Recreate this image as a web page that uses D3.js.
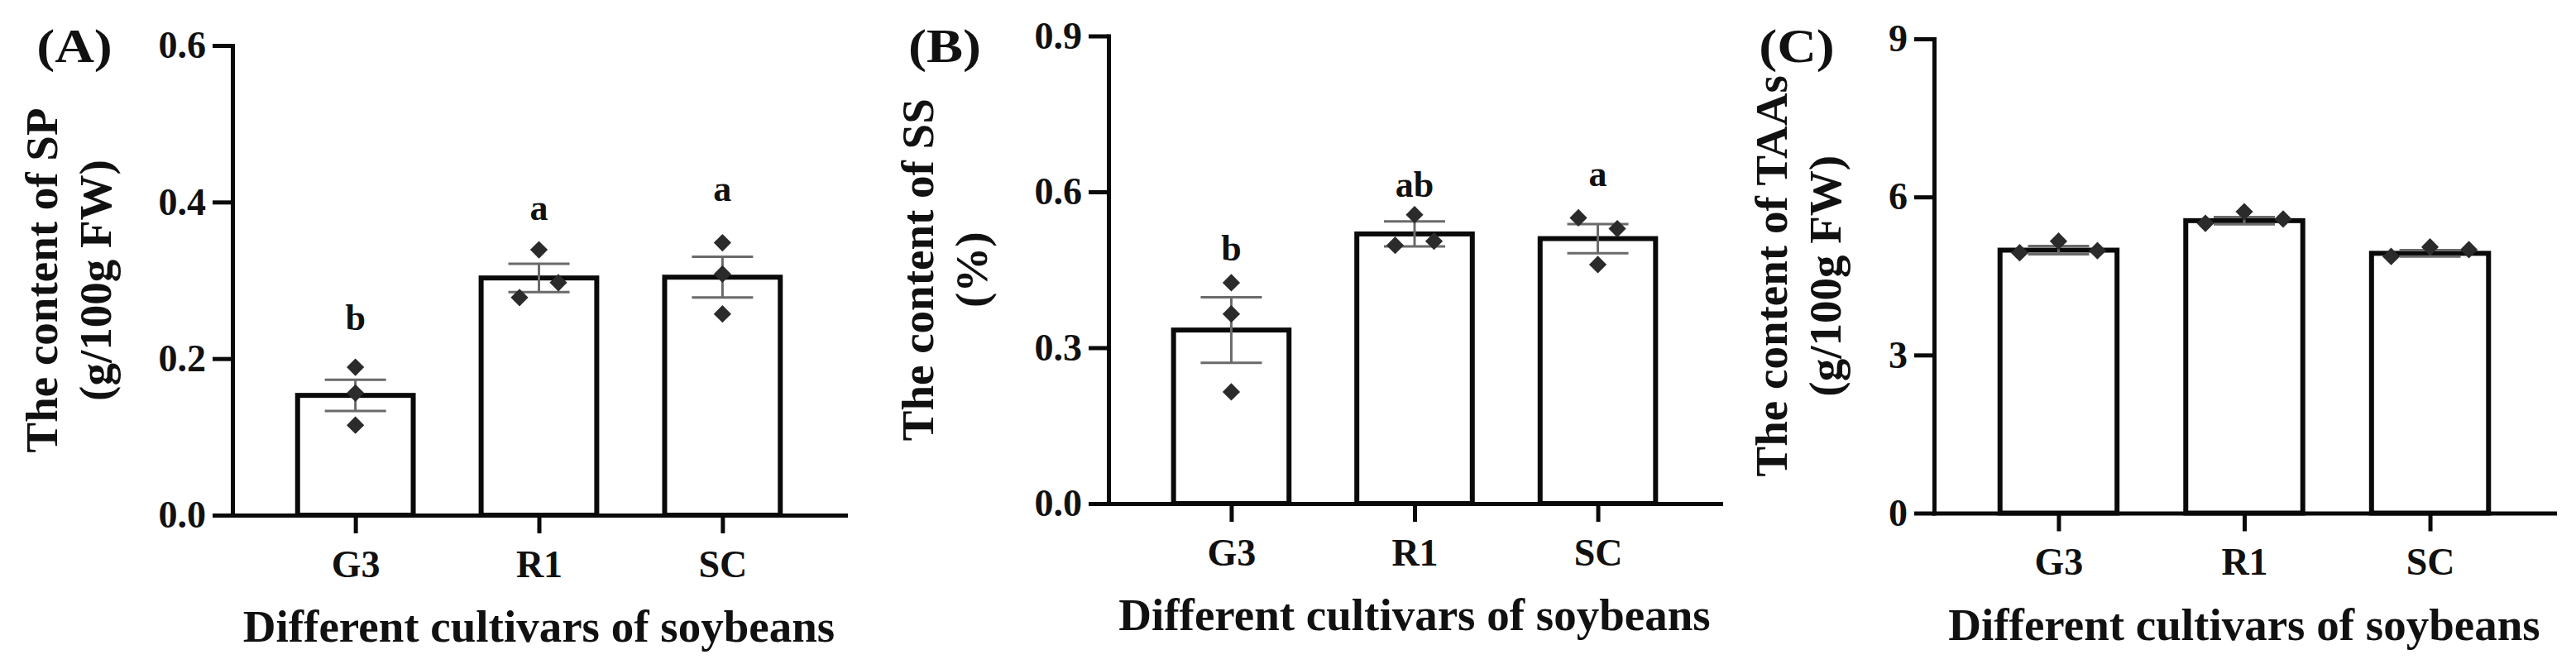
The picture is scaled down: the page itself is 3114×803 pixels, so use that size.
<!DOCTYPE html>
<html>
<head>
<meta charset="utf-8">
<script src="https://cdn.jsdelivr.net/npm/d3@7"></script>
<style>
  body { margin: 0; background: #fff; }
  svg text { font-family: "Liberation Serif", "Times New Roman", serif; font-weight: bold; fill: #111; }
</style>
</head>
<body>
<div id="chart"></div>
<script>
var categories = ["G3", "R1", "SC"];
var xTitle     = "Different cultivars of soybeans";

// (A) soluble protein
var spMeans   = [0.153, 0.303, 0.304];
var spErr     = [0.020, 0.018, 0.026];
var spPoints  = [[0.189, 0.156, 0.115], [0.339, 0.278, 0.297], [0.348, 0.308, 0.257]];
var spLetters = ["b", "a", "a"];
var spLetterY = [0.237, 0.377, 0.401];
var spTicks   = [0, 0.2, 0.4, 0.6];
var spTitle   = ["The content of SP", "(g/100g FW)"];

// (B) soluble sugar
var ssMeans   = [0.334, 0.519, 0.510];
var ssErr     = [0.063, 0.024, 0.028];
var ssPoints  = [[0.425, 0.365, 0.215], [0.556, 0.497, 0.505], [0.550, 0.529, 0.460]];
var ssLetters = ["b", "ab", "a"];
var ssLetterY = [0.468, 0.590, 0.611];
var ssTicks   = [0, 0.3, 0.6, 0.9];
var ssTitle   = ["The content of SS", "(%)"];

// (C) total amino acids
var taaMeans  = [4.99, 5.55, 4.93];
var taaErr    = [0.08, 0.07, 0.06];
var taaPoints = [[4.94, 5.16, 4.98], [5.50, 5.72, 5.58], [4.87, 5.05, 5.00]];
var taaTicks  = [0, 3, 6, 9];
var taaTitle  = ["The content of TAAs", "(g/100g FW)"];

var panels = [
  {tag: "(A)", means: spMeans, err: spErr, points: spPoints, letters: spLetters, letterY: spLetterY,
   ticks: spTicks, fmt: ".1f", title: spTitle, left: 281, right: 1022, y0: 623, yTop: 55, tagX: 90},
  {tag: "(B)", means: ssMeans, err: ssErr, points: ssPoints, letters: ssLetters, letterY: ssLetterY,
   ticks: ssTicks, fmt: ".1f", title: ssTitle, left: 1340, right: 2080, y0: 609, yTop: 43.5, tagX: 1142},
  {tag: "(C)", means: taaMeans, err: taaErr, points: taaPoints, letters: null, letterY: null,
   ticks: taaTicks, fmt: "d", title: taaTitle, left: 2338, right: 3088, y0: 620.5, yTop: 47, tagX: 2172}
];

var svg = d3.select("#chart")
  .append("svg")
    .attr("width", 3114)
    .attr("height", 803);

svg.append("rect").attr("width", 3114).attr("height", 803).attr("fill", "#fff");

panels.forEach(drawPanel);

// spread points that would overlap, like a column scatter
function spreadOffsets(vals, y) {
  var order = vals.map(function(v, i) { return i; }).sort(function(a, b) { return y(vals[b]) - y(vals[a]); });
  var clusters = [], cur = [order[0]];
  for (var k = 1; k < order.length; k++) {
    if (Math.abs(y(vals[order[k]]) - y(vals[order[k - 1]])) < 25) cur.push(order[k]);
    else { clusters.push(cur); cur = [order[k]]; }
  }
  clusters.push(cur);
  var off = vals.map(function() { return 0; });
  clusters.forEach(function(c) {
    c.sort(function(a, b) { return a - b; });
    c.forEach(function(idx, j) { off[idx] = (j - (c.length - 1) / 2) * 47; });
  });
  return off;
}

function drawPanel(p) {
  var g = svg.append("g");

  var x = d3.scalePoint()
    .domain(categories)
    .range([p.left, p.right])
    .padding(0.67);

  var y = d3.scaleLinear()
    .domain([0, p.ticks[p.ticks.length - 1]])
    .range([p.y0, p.yTop]);

  var bw = x.step() * 0.63;

  // bars
  g.selectAll(".bar")
    .data(categories)
    .enter().append("rect")
      .attr("x", function(d) { return x(d) - bw / 2; })
      .attr("y", function(d, i) { return y(p.means[i]); })
      .attr("width", bw)
      .attr("height", function(d, i) { return p.y0 - y(p.means[i]); })
      .attr("fill", "#fff")
      .attr("stroke", "#0a0a0a")
      .attr("stroke-width", 6);

  // Y axis
  var yAxis = g.append("g")
    .attr("transform", "translate(" + p.left + ",0)")
    .call(d3.axisLeft(y).tickValues(p.ticks).tickFormat(d3.format(p.fmt))
      .tickSize(24).tickSizeOuter(0).tickPadding(8));

  // X axis
  var xAxis = g.append("g")
    .attr("transform", "translate(0," + p.y0 + ")")
    .call(d3.axisBottom(x).tickSize(22).tickSizeOuter(0).tickPadding(20));

  [yAxis, xAxis].forEach(function(a) {
    a.attr("font-family", null).attr("font-size", null);
    a.select(".domain").attr("stroke", "#0a0a0a").attr("stroke-width", 5).attr("stroke-linecap", "square");
    a.selectAll(".tick line").attr("stroke", "#0a0a0a").attr("stroke-width", 5);
    a.selectAll(".tick text").style("font-size", "46px").attr("fill", "#111");
  });

  // error bars
  var cap = 37;
  categories.forEach(function(c, i) {
    var cx = x(c), hi = y(p.means[i] + p.err[i]), lo = y(p.means[i] - p.err[i]);
    var eg = g.append("g").attr("stroke", "#6a6a6a").attr("stroke-width", 3);
    eg.append("line").attr("x1", cx).attr("x2", cx).attr("y1", hi).attr("y2", lo);
    eg.append("line").attr("x1", cx - cap).attr("x2", cx + cap).attr("y1", hi).attr("y2", hi);
    eg.append("line").attr("x1", cx - cap).attr("x2", cx + cap).attr("y1", lo).attr("y2", lo);
  });

  // individual points
  var diamond = d3.symbol().type(d3.symbolSquare).size(225);
  categories.forEach(function(c, i) {
    var off = spreadOffsets(p.points[i], y);
    g.selectAll(null)
      .data(p.points[i])
      .enter().append("path")
        .attr("d", diamond)
        .attr("transform", function(d, j) {
          return "translate(" + (x(c) + off[j]) + "," + y(d) + ") rotate(45)";
        })
        .attr("fill", "#2b2b2b");
  });

  // significance letters
  if (p.letters) {
    g.selectAll(null)
      .data(p.letters)
      .enter().append("text")
        .attr("x", function(d, i) { return x(categories[i]); })
        .attr("y", function(d, i) { return y(p.letterY[i]); })
        .attr("text-anchor", "middle")
        .style("font-size", "44px")
        .text(function(d) { return d; });
  }

  // x title
  g.append("text")
    .attr("x", (p.left + p.right) / 2)
    .attr("y", p.y0 + 153)
    .attr("text-anchor", "middle")
    .style("font-size", "55px")
    .text(xTitle);

  // y title, two lines, placed from the tick labels
  var labelsLeft = p.left + yAxis.node().getBBox().x;
  var cy = (p.y0 + p.yTop) / 2;
  var base2 = labelsLeft - 58, base1 = base2 - 65;
  [base1, base2].forEach(function(bx, k) {
    g.append("text")
      .attr("transform", "translate(" + bx + "," + cy + ") rotate(-90)")
      .attr("text-anchor", "middle")
      .style("font-size", "55px")
      .text(p.title[k]);
  });

  // panel tag (the original letters are a little wider than the font)
  g.append("text")
    .attr("transform", "translate(" + p.tagX + ",75) scale(1.18,1)")
    .attr("text-anchor", "middle")
    .style("font-size", "56px")
    .text(p.tag);
}
</script>
</body>
</html>
